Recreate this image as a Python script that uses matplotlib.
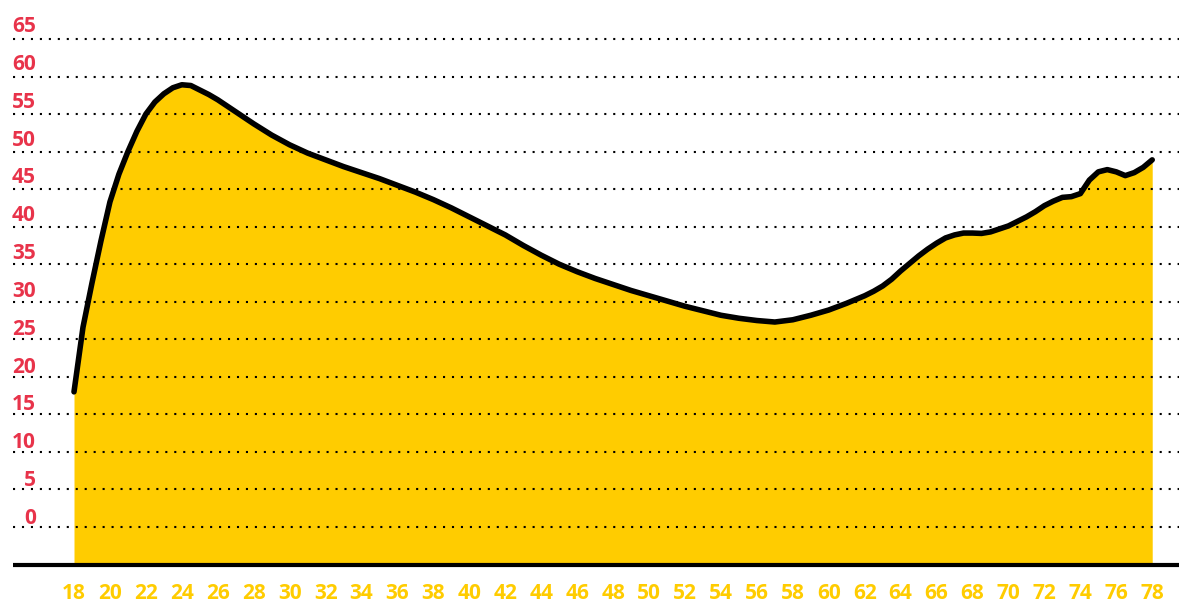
import matplotlib.pyplot as plt
import numpy as np

ages = ([18, 18.5, 19, 19.5, 20, 20.5, 21, 21.5, 22, 22.5, 23, 23.5,
         24, 24.5, 25, 25.5, 26]
        + list(range(27, 62))
        + [62, 62.5, 63, 63.5, 64, 64.5, 65, 65.5, 66, 66.5, 67, 67.5,
           68, 68.5, 69, 69.5, 70, 70.5, 71, 71.5, 72, 72.5, 73, 73.5,
           74, 74.5, 75, 75.5, 76, 76.5, 77, 77.5, 78])
values = ([18.0, 26.6, 32.5, 38.1, 43.3, 47.0, 50.0, 52.7, 55.0, 56.6,
           57.7, 58.5, 58.9, 58.8, 58.2, 57.6, 56.9]
          + [55.3, 53.7, 52.2, 50.9, 49.8, 48.9, 48.0, 47.2, 46.4, 45.5,
             44.6, 43.6, 42.5, 41.3, 40.1, 38.9, 37.5, 36.2, 35.0, 34.0,
             33.1, 32.3, 31.5, 30.8, 30.1, 29.4, 28.8, 28.2, 27.8, 27.5,
             27.3, 27.6, 28.2, 28.9, 29.8]
          + [30.8, 31.4, 32.1, 33.0, 34.1, 35.1, 36.1, 37.0, 37.8, 38.5,
             38.9, 39.15, 39.15, 39.1, 39.3, 39.7, 40.1, 40.7, 41.3, 42.0,
             42.8, 43.4, 43.9, 44.0, 44.4, 46.2, 47.3, 47.6, 47.3, 46.8,
             47.2, 47.9, 48.9])
y_ticks = list(range(0, 70, 5))
x_ticks = list(range(18, 80, 2))

YELLOW = '#FFCC00'
RED = '#E8334A'
FONT = 'Open Sans'

fig = plt.figure(figsize=(11.79, 6.05), dpi=100)
ax = fig.add_axes([0, 0, 1, 1])
ax.set_xlim(13.882, 79.49)
ax.set_ylim(-10.39, 70.19)
ax.axis('off')

x = np.array(ages)
y = np.array(values)
ax.fill_between(x, -5, y, color=YELLOW, lw=0, zorder=1)
ax.plot(x, y, color='black', lw=4.0, solid_capstyle='round',
        solid_joinstyle='round', zorder=3)

x_left = 13.882 + 13 / 17.97
for v in y_ticks:
    ax.hlines(v, x_left, 79.49, colors='black', lw=1.5,
              linestyles=(0, (1, 3.3)), zorder=2)
    # labels sit a few px above their gridline, gap grows slightly upward
    ax.text(15.885, v + 0.4 + v * 0.0082, str(v), color=RED, fontsize=15,
            fontweight='bold', family=FONT, ha='right', va='baseline')

ax.hlines(-5, x_left, 79.49, colors='black', lw=3, zorder=4)

for t in x_ticks:
    ax.text(t, -9.6, str(t), color=YELLOW, fontsize=15,
            fontweight='bold', family=FONT, ha='center', va='baseline')

plt.savefig('out.png', dpi=100)
plt.close()
